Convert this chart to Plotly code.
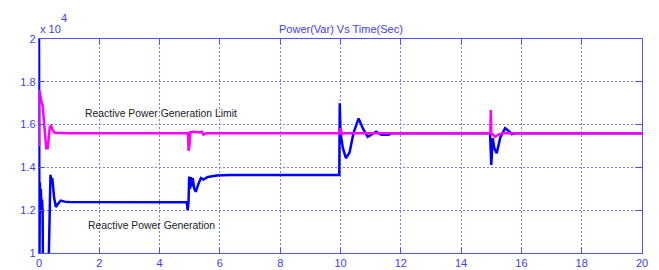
import plotly.graph_objects as go

# Reactive power generation (Var) vs time (s)
t_gen = [0.000, 0.005, 0.015, 0.030, 0.045, 0.060, 0.080, 0.100, 0.120, 0.130, 0.320, 0.350, 0.380,
         0.410, 0.440, 0.500, 0.560, 0.630, 0.720, 0.850, 1.000, 4.900, 4.930, 4.960, 4.980, 5.010,
         5.040, 5.070, 5.100, 5.150, 5.200, 5.280, 5.370, 5.450, 5.600, 5.900, 6.300, 9.960, 9.975,
         10.00, 10.08, 10.18, 10.30, 10.43, 10.60, 10.75, 10.90, 11.05, 11.18, 11.35, 11.60, 11.70,
         14.96, 15.00, 15.05, 15.10, 15.18, 15.30, 15.46, 15.58, 15.68, 15.80, 20.00]
q_gen = [20000, 14800, 9500, 13300, 11900, 13000, 12200, 12500, 12000, 9500, 9500, 13000, 13650,
         13400, 13500, 12600, 12150, 12300, 12450, 12400, 12380, 12370, 12000, 12370, 13570, 13000,
         13550, 13100, 13500, 13000, 12860, 13200, 13500, 13430, 13550, 13620, 13650, 13650, 17000,
         15600, 14900, 14430, 14700, 15600, 16290, 15800, 15430, 15550, 15670, 15530, 15530, 15600,
         15600, 14110, 15360, 14900, 14660, 15400, 15830, 15700, 15550, 15590, 15590]

# Reactive power generation limit (Var) vs time (s)
t_lim = [0.000, 0.005, 0.030, 0.060, 0.090, 0.120, 0.150, 0.180, 0.210, 0.240, 0.290, 0.320, 0.360,
         0.400, 0.450, 0.520, 1.000, 4.940, 4.960, 4.990, 5.020, 5.150, 5.300, 5.400, 5.450, 5.550,
         9.980, 10.00, 10.05, 10.10, 14.97, 14.985, 15.00, 15.04, 15.12, 15.27, 15.40, 20.00]
q_lim = [15000, 17600, 17500, 17200, 17000, 16900, 16400, 16000, 15300, 14900, 14900, 15500, 15900,
         15950, 15750, 15620, 15600, 15600, 14780, 15000, 15650, 15670, 15630, 15670, 15530, 15600,
         15600, 15830, 15530, 15600, 15600, 16680, 15600, 15550, 15430, 15550, 15600, 15600]

x_ticks = [0, 2, 4, 6, 8, 10, 12, 14, 16, 18, 20]
y_ticks = [10000, 12000, 14000, 16000, 18000, 20000]
y_tick_text = ["1", "1.2", "1.4", "1.6", "1.8", "2"]

title_text = "Power(Var) Vs Time(Sec)"
label_limit = "Reactive Power Generation Limit"
label_gen = "Reactive Power Generation"

AXC = "#3d3df2"
GRIDC = "#7a7aff"

fig = go.Figure()
fig.add_trace(go.Scatter(x=t_gen, y=q_gen, mode="lines",
                         line=dict(color="#0000ff", width=2.5), showlegend=False))
fig.add_trace(go.Scatter(x=t_lim, y=q_lim, mode="lines",
                         line=dict(color="#ff00ff", width=2.5), showlegend=False))

axis_common = dict(showline=True, linecolor="#5050ff", linewidth=1.3, mirror="ticks",
                   ticks="inside", ticklen=6, tickcolor="#5050ff", tickwidth=1,
                   showgrid=True, gridcolor=GRIDC, gridwidth=1.2, griddash="2px,2px",
                   zeroline=False, automargin=False,
                   tickfont=dict(family="Liberation Sans, Arial, sans-serif", size=11, color=AXC))

fig.update_xaxes(range=[0, 20], tickvals=x_ticks, ticktext=[str(v) for v in x_ticks], **axis_common)
fig.update_yaxes(range=[10000, 20000], tickvals=y_ticks, ticktext=y_tick_text, **axis_common)

fig.add_annotation(text=title_text, xref="paper", yref="paper", x=0.5, y=(253 - 29) / 214,
                   xanchor="center", yanchor="middle", showarrow=False,
                   font=dict(family="Liberation Sans, Arial, sans-serif", size=11, color=AXC))
fig.add_annotation(text="x 10", xref="paper", yref="paper", x=(37.5 - 39) / 603, y=(253 - 29) / 214,
                   xanchor="left", yanchor="middle", showarrow=False,
                   font=dict(family="Liberation Sans, Arial, sans-serif", size=11, color=AXC))
fig.add_annotation(text="4", xref="paper", yref="paper", x=(58.5 - 39) / 603, y=(253 - 18) / 214,
                   xanchor="left", yanchor="middle", showarrow=False,
                   font=dict(family="Liberation Sans, Arial, sans-serif", size=11, color=AXC))

fig.add_annotation(text=label_limit, x=1.46, y=16500, xanchor="left", yanchor="middle",
                   showarrow=False,
                   font=dict(family="Liberation Sans, Arial, sans-serif", size=10.4, color="#222222"))
fig.add_annotation(text=label_gen, x=1.56, y=11276, xanchor="left", yanchor="middle",
                   showarrow=False,
                   font=dict(family="Liberation Sans, Arial, sans-serif", size=10.4, color="#222222"))

fig.update_layout(width=659, height=270, margin=dict(l=39, r=17, t=39, b=17, pad=0),
                  paper_bgcolor="white", plot_bgcolor="white")

fig.write_html("out.html", config={"displayModeBar": False},
               post_script="document.body.style.margin='0';")
